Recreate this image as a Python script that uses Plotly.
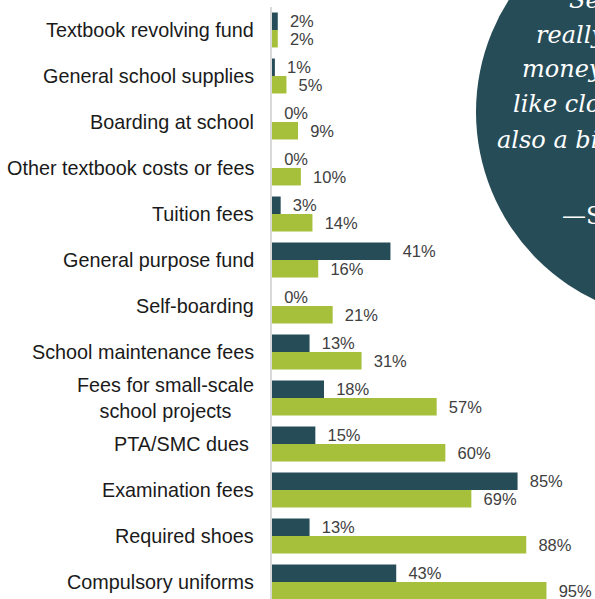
import plotly.graph_objects as go

categories = [
    "Textbook revolving fund",
    "General school supplies",
    "Boarding at school",
    "Other textbook costs or fees",
    "Tuition fees",
    "General purpose fund",
    "Self-boarding",
    "School maintenance fees",
    "Fees for small-scale<br>school projects",
    "PTA/SMC dues\u00a0",
    "Examination fees",
    "Required shoes",
    "Compulsory uniforms",
]
primary_pct = [2, 1, 0, 0, 3, 41, 0, 13, 18, 15, 85, 13, 43]
secondary_pct = [2, 5, 9, 10, 14, 16, 21, 31, 57, 60, 69, 88, 95]

quote_lines = [
    "Secondary school is",
    "really expensive; the",
    "money goes on things",
    "like clothes and shoes. It is",
    "also a big burden for us.",
    "\u2014Student",
]

DARK = "#264c57"
GREEN = "#a6c03b"

W, H = 595, 599
ML, MR, MT, MB = 272, 0, 7, 0
PW, PH = W - ML - MR, H - MT - MB


def px(xp):
    return (xp - ML) / PW


def py(yp):
    return (H - MB - yp) / PH


pad = "\u00a0\u00a0"
fig = go.Figure()
fig.add_trace(go.Bar(
    y=categories, x=primary_pct, orientation="h", name="Primary",
    marker=dict(color=DARK, line=dict(width=0)),
    text=[f"{pad}{v}%" for v in primary_pct], textposition="outside",
    textfont=dict(family="Liberation Sans, Arial", size=16.5, color="#404040"),
    cliponaxis=False, constraintext="none",
))
fig.add_trace(go.Bar(
    y=categories, x=secondary_pct, orientation="h", name="Secondary",
    marker=dict(color=GREEN, line=dict(width=0)),
    text=[f"{pad}{v}%" for v in secondary_pct], textposition="outside",
    textfont=dict(family="Liberation Sans, Arial", size=16.5, color="#404040"),
    cliponaxis=False, constraintext="none",
))

annotations = []
for c in categories:
    annotations.append(dict(
        x=0, xref="paper", y=c, yref="y", xanchor="right", yanchor="middle",
        xshift=-16, text=c, showarrow=False, align="center",
        font=dict(family="Liberation Sans, Arial", size=19.8, color="#1a1a1a"),
    ))

# quote in circle
quote_pos = [(567, 10), (534, 45), (520, 79), (511, 114), (495, 150), (560, 226)]
for i, (line, (xp, yb)) in enumerate(zip(quote_lines, quote_pos)):
    italic = i < len(quote_lines) - 1
    annotations.append(dict(
        x=px(xp), xref="paper", y=py(yb), yref="paper",
        xanchor="left", yanchor="bottom", yshift=-6,
        text=f"<i>{line}</i>" if italic else line, showarrow=False,
        font=dict(family="DejaVu Serif", size=24, color="white"),
    ))

fig.update_layout(
    width=W, height=H,
    margin=dict(l=ML, r=MR, t=MT, b=MB, pad=0),
    paper_bgcolor="white", plot_bgcolor="white",
    barmode="group", bargap=0.24, bargroupgap=0,
    showlegend=False,
    xaxis=dict(range=[0, 111.8], showgrid=False, zeroline=False,
               showticklabels=False, showline=False),
    yaxis=dict(range=[12.37, -0.5], showgrid=False, zeroline=False,
               showticklabels=False, showline=True, linewidth=2,
               linecolor="#d9d9d9", ticks=""),
    shapes=[dict(
        type="circle", xref="paper", yref="paper",
        xsizemode="pixel", ysizemode="pixel",
        xanchor=px(684), yanchor=py(112),
        x0=-208, x1=208, y0=-208, y1=208,
        fillcolor=DARK, line=dict(width=0), layer="below",
    )],
    annotations=annotations,
)

fig.write_html("out.html", config={"displayModeBar": False},
               post_script="document.body.style.margin='0';")
